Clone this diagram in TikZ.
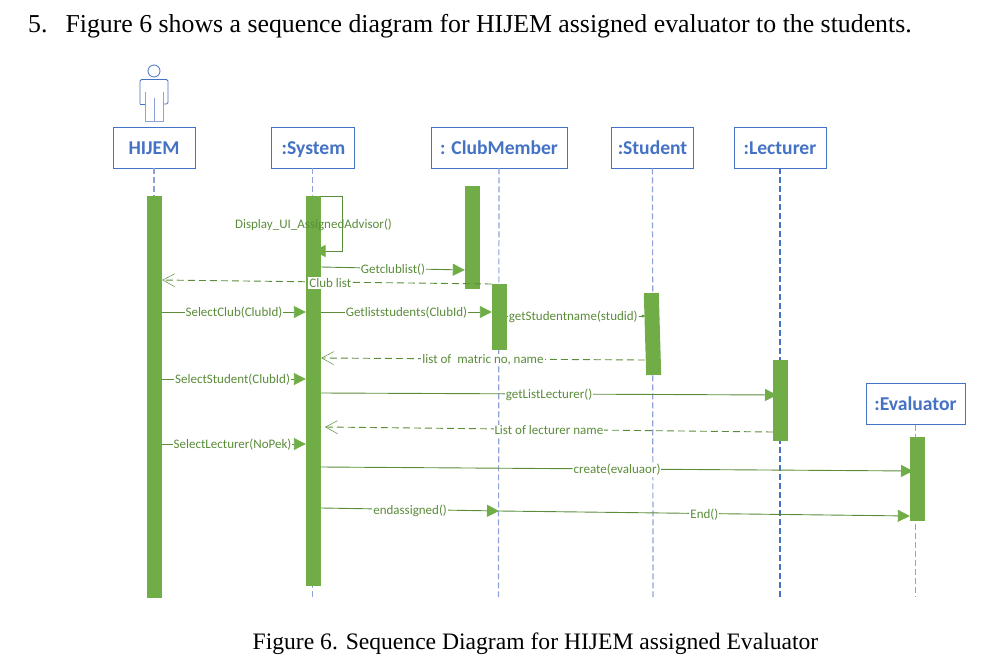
\documentclass[tikz,border=0pt]{standalone}
\usepackage{fontspec}
\setmainfont{Liberation Serif}
\newfontfamily\diagfont{Carlito}
\usetikzlibrary{arrows.meta,positioning}
\definecolor{barcol}{HTML}{70AD47}
\definecolor{msgcol}{HTML}{5B8C3A}
\definecolor{headcol}{HTML}{4472C4}
\definecolor{lifecol}{HTML}{8FA2D8}
\tikzset{
	headbox/.style={draw=headcol, line width=0.9pt, fill=white, text=headcol, inner sep=0pt, minimum height=41pt, text height=13pt, text depth=0pt, font=\diagfont\fontsize{19.6}{19.6}\selectfont\bfseries},
	lifeline/.style={lifecol, dash pattern=on 6pt off 3pt, line width=1.2pt},
	actbar/.style={fill=barcol, inner sep=0pt, minimum width=15pt, anchor=north},
	callmsg/.style={-{Triangle[length=12pt,width=12pt,color=barcol]}, msgcol, line width=0.9pt},
	backmsg/.style={-{Straight Barb[length=12pt,width=13pt,line width=0.5pt]}, msgcol, dashed, dash pattern=on 7pt off 4pt, line width=0.9pt},
	msglabel/.style={fill=white, text=msgcol, inner sep=1pt, yshift=-1pt, font=\diagfont\fontsize{13}{13}\selectfont},
	bodytext/.style={inner sep=0pt, font=\fontsize{25.8}{25.8}\selectfont}
}
\begin{document}
\begin{tikzpicture}[x=1pt,y=-1pt]
	\useasboundingbox (0,0) rectangle (1005,667);
	\node[bodytext, anchor=west] (title) at (28,26.5) {5.\hspace{18pt}Figure 6 shows a sequence diagram for HIJEM assigned evaluator to the students.};
	\node[bodytext, font=\fontsize{23.6}{23.6}\selectfont] (caption) at (535.5,643.5) {Figure 6. Sequence Diagram for HIJEM assigned Evaluator};
	% actor
	\node[circle, draw=headcol, line width=0.8pt, minimum size=12pt, inner sep=0pt] (actorhead) at (154,71) {};
	\draw[headcol, line width=0.8pt, rounded corners=1.5pt] (140,104) -- (140,79.5) -- (168,79.5) -- (168,104) -- (163,104);
	\draw[headcol, line width=0.8pt] (145,104) -- (140,104);
	\draw[lifecol, line width=0.9pt] (145,92) -- (145,121) -- (163,121) -- (163,92) (154,98) -- (154,121);
	% heads
	\node[headbox, minimum width=82pt] (hijem) at (154,147.5) {HIJEM};
	\node[headbox, minimum width=83pt] (system) at (312.5,147.5) {\hspace{2pt}:System};
	\node[headbox, minimum width=136pt] (club) at (499,147.5) {: ClubMember};
	\node[headbox, minimum width=82pt] (student) at (652.5,147.5) {:Student};
	\node[headbox, minimum width=92pt] (lecturer) at (780,147.5) {:Lecturer};
	\node[headbox, minimum width=99pt] (evaluator) at (915.5,404) {:Evaluator};
	% lifelines
	\coordinate (hijemend) at (154,597);
	\coordinate (systemend) at (312.5,597);
	\coordinate (clubend) at (498.5,597);
	\coordinate (studentend) at (653,597);
	\coordinate (lecturerend) at (780,597);
	\coordinate (evaluatorend) at (915.5,597);
	\draw[lifeline] (hijem) -- (hijemend);
	\draw[lifeline] (system) -- (systemend);
	\draw[lifeline] (club) -- (clubend);
	\draw[lifeline] (student) -- (studentend);
	\draw[lifeline, headcol] (lecturer) -- (lecturerend);
	\draw[lifeline] (evaluator) -- (evaluatorend);
	% bars
	\node[actbar, minimum height=402pt] (hijembar) at (154.5,196) {};
	\node[actbar, minimum height=390pt] (sysbar) at (313.5,196) {};
	\node[actbar, minimum height=103pt] (clubbar) at (472.5,186) {};
	\node[actbar, minimum height=66pt] (listbar) at (499.5,284) {};
	\node[actbar, minimum height=82pt, anchor=center, rotate=1.7] (studbar) at (652.5,334) {};
	\node[actbar, minimum height=81pt] (lectbar) at (780.5,360) {};
	\node[actbar, minimum height=84pt] (evalbar) at (917.5,437) {};
	% messages
	\draw[callmsg] (sysbar.east |- 0,196) -- (342.5,196) -- (342.5,251) -- (sysbar.center |- 0,251);
	\node[text=msgcol, inner sep=0pt, font=\diagfont\fontsize{13}{13}\selectfont] (uilabel) at (313.5,225) {Display\_UI\_AssignedAdvisor()};
	\draw[callmsg] (sysbar.east |- 0,267) -- node[msglabel] (getclub) {Getclublist()} (clubbar.west |- 0,270);
	\draw[backmsg] (listbar.west |- 0,284) -- node[msglabel, pos=0.49] (clublist) {Club list} (hijembar.east |- 0,280);
	\draw[callmsg] (hijembar.east |- 0,312) -- node[msglabel] (selclub) {SelectClub(ClubId)} (sysbar.west |- 0,312);
	\draw[callmsg] (sysbar.east |- 0,312) -- node[msglabel] (getlist) {Getliststudents(ClubId)} (listbar.west |- 0,312);
	\draw[-{Triangle[length=3pt,width=3pt]}, msgcol, line width=0.7pt] (listbar.east |- 0,316) -- node[msglabel, pos=0.48] (getname) {getStudentname(studid)} (studbar.west |- 0,316);
	\draw[backmsg] (studbar.west |- 0,360) -- node[msglabel] (matric) {list of \ matric no, name} (sysbar.east |- 0,358);
	\draw[callmsg] (hijembar.east |- 0,379) -- node[msglabel, pos=0.49] (selstud) {SelectStudent(ClubId)} (sysbar.west |- 0,379);
	\coordinate (lectin) at (777,395);
	\draw[callmsg] (sysbar.east |- 0,393) -- node[msglabel] (getlect) {getListLecturer()} (lectin);
	\coordinate (lectback) at (325,427);
	\draw[backmsg] (lectbar.west |- 0,432) -- node[msglabel] (lectname) {List of lecturer name} (lectback);
	\draw[callmsg] (hijembar.east |- 0,444) -- node[msglabel, pos=0.49] (sellect) {SelectLecturer(NoPek)} (sysbar.west |- 0,444);
	\coordinate (evalin) at (913,471);
	\draw[callmsg] (sysbar.east |- 0,467) -- node[msglabel] (create) {create(evaluaor)} (evalin);
	\draw[callmsg] (sysbar.east |- 0,508) -- node[msglabel] (endass) {endassigned()} (club.south |- 0,511);
	\draw[callmsg] (club.south |- 0,511) -- node[msglabel] (endmsg) {End()} (evalbar.west |- 0,516);
\end{tikzpicture}
\end{document}
